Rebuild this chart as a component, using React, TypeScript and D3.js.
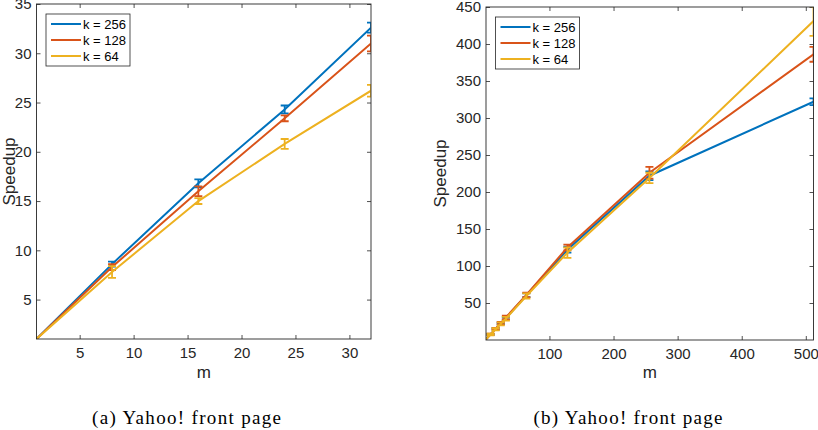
import React, { useEffect, useRef } from 'react';
import * as d3 from 'd3';

// speedup vs. number of machines m, three values of k
const M_A = [1, 8, 16, 24, 32];
const SPEED_A_256 = [1, 8.6, 16.8, 24.3, 32.6];
const SPEED_A_128 = [1, 8.3, 16.0, 23.4, 31.0];
const SPEED_A_64 = [1, 7.8, 15.0, 20.8, 26.2];
const ERR_A_256 = [0, 0.25, 0.4, 0.4, 0.5];
const ERR_A_128 = [0, 0.3, 0.5, 0.3, 0.8];
const ERR_A_64 = [0, 0.6, 0.3, 0.5, 0.6];

const M_B = [1, 8, 16, 24, 32, 64, 128, 256, 512];
const SPEED_B_256 = [1, 7.6, 15.0, 22.3, 29.5, 60.5, 122, 222, 322];
const SPEED_B_128 = [1, 7.7, 15.2, 22.8, 30.5, 61, 125, 226, 386];
const SPEED_B_64 = [1, 7.4, 14.6, 21.8, 28.8, 59.5, 118, 219, 431];
const ERR_B_256 = [0, 0.8, 1, 1.2, 1.5, 2.5, 4, 6, 4.5];
const ERR_B_128 = [0, 1, 1.2, 1.5, 2.5, 3, 4, 8, 10];
const ERR_B_64 = [0, 1.2, 1.5, 2, 2.5, 3.5, 7, 7, 20];

const SERIES_NAMES = ['k = 256', 'k = 128', 'k = 64'];
const COLORS = ['#0072BD', '#D95319', '#EDB120'];

const TICKS_A_X = [5, 10, 15, 20, 25, 30];
const TICKS_A_Y = [5, 10, 15, 20, 25, 30, 35];
const TICKS_B_X = [100, 200, 300, 400, 500];
const TICKS_B_Y = [50, 100, 150, 200, 250, 300, 350, 400, 450];

const AXIS_COLOR = '#262626';
const FONT = '"Liberation Sans", Arial, Helvetica, sans-serif';

type Panel = {
  id: string;
  left: number;
  right: number;
  top: number;
  bottom: number;
  xDomain: [number, number];
  yDomain: [number, number];
  xTicks: number[];
  yTicks: number[];
  m: number[];
  speed: number[][];
  err: number[][];
  ylabelX: number;
  caption: string;
  captionX: number;
};

const panels: Panel[] = [
  {
    id: 'a', left: 36.5, right: 371, top: 4, bottom: 339,
    xDomain: [1, 32], yDomain: [1, 35], xTicks: TICKS_A_X, yTicks: TICKS_A_Y,
    m: M_A, speed: [SPEED_A_256, SPEED_A_128, SPEED_A_64], err: [ERR_A_256, ERR_A_128, ERR_A_64],
    ylabelX: 15, caption: '(a) Yahoo! front page', captionX: 186.5,
  },
  {
    id: 'b', left: 486, right: 813.5, top: 7, bottom: 340,
    xDomain: [1, 512], yDomain: [0, 450], xTicks: TICKS_B_X, yTicks: TICKS_B_Y,
    m: M_B, speed: [SPEED_B_256, SPEED_B_128, SPEED_B_64], err: [ERR_B_256, ERR_B_128, ERR_B_64],
    ylabelX: 446, caption: '(b) Yahoo! front page', captionX: 628,
  },
];

function drawPanel(root: d3.Selection<SVGSVGElement, unknown, null, undefined>, p: Panel) {
  const x = d3.scaleLinear().domain(p.xDomain).range([p.left, p.right]);
  const y = d3.scaleLinear().domain(p.yDomain).range([p.bottom, p.top]);
  const w = p.right - p.left;
  const h = p.bottom - p.top;

  root.append('defs').append('clipPath').attr('id', 'clip-' + p.id)
    .append('rect').attr('x', p.left).attr('y', p.top).attr('width', w).attr('height', h);

  const g = root.append('g');

  // axes: ticks point inward on all four sides
  const styleAxis = (sel: d3.Selection<SVGGElement, unknown, null, undefined>) => {
    sel.select('.domain').remove();
    sel.selectAll('line').attr('stroke', AXIS_COLOR).attr('stroke-width', 0.8);
    sel.selectAll('text').attr('fill', AXIS_COLOR).attr('font-size', 15).attr('font-family', FONT);
  };

  g.append('g').attr('transform', `translate(0,${p.bottom})`)
    .call(d3.axisBottom(x).tickValues(p.xTicks).tickSize(-4).tickPadding(8))
    .call(styleAxis);
  g.append('g').attr('transform', `translate(0,${p.top})`)
    .call(d3.axisTop(x).tickValues(p.xTicks).tickSize(-4).tickFormat(() => ''))
    .call(styleAxis);
  g.append('g').attr('transform', `translate(${p.left},0)`)
    .call(d3.axisLeft(y).tickValues(p.yTicks).tickSize(-4).tickPadding(5))
    .call(styleAxis);
  g.append('g').attr('transform', `translate(${p.right},0)`)
    .call(d3.axisRight(y).tickValues(p.yTicks).tickSize(-4).tickFormat(() => ''))
    .call(styleAxis);

  // series with error bars
  const plot = g.append('g').attr('clip-path', `url(#clip-${p.id})`);
  const line = d3.line<number>().x((_, i) => x(p.m[i])).y(d => y(d));
  p.speed.forEach((vals, s) => {
    const sg = plot.append('g').attr('stroke', COLORS[s]).attr('stroke-width', 2).attr('fill', 'none');
    sg.append('path').attr('d', line(vals));
    vals.forEach((v, i) => {
      const e = p.err[s][i];
      if (e <= 0) return;
      const cx = x(p.m[i]);
      const y0 = y(v - e);
      const y1 = y(v + e);
      sg.append('path').attr('d', `M${cx},${y0}V${y1}M${cx - 4},${y0}H${cx + 4}M${cx - 4},${y1}H${cx + 4}`)
        .attr('stroke-width', 1.8);
    });
  });

  // box
  g.append('rect').attr('x', p.left).attr('y', p.top).attr('width', w).attr('height', h)
    .attr('fill', 'none').attr('stroke', AXIS_COLOR).attr('stroke-width', 0.9);

  // legend
  const lg = g.append('g').attr('transform', `translate(${p.left + 9.5},${p.top + 10})`);
  lg.append('rect').attr('width', 84).attr('height', 52)
    .attr('fill', '#fff').attr('stroke', AXIS_COLOR).attr('stroke-width', 0.8);
  SERIES_NAMES.forEach((name, i) => {
    const ry = 10 + i * 16;
    lg.append('line').attr('x1', 5).attr('x2', 35).attr('y1', ry).attr('y2', ry)
      .attr('stroke', COLORS[i]).attr('stroke-width', 2);
    lg.append('text').attr('x', 37).attr('y', ry).attr('dy', '0.35em')
      .attr('font-size', 13).attr('font-family', FONT).attr('fill', '#000').text(name);
  });

  // axis labels
  g.append('text').attr('x', (p.left + p.right) / 2).attr('y', 378)
    .attr('text-anchor', 'middle').attr('font-size', 17).attr('font-family', FONT)
    .attr('fill', AXIS_COLOR).text('m');
  g.append('text').attr('transform', `translate(${p.ylabelX},${(p.top + p.bottom) / 2}) rotate(-90)`)
    .attr('text-anchor', 'middle').attr('font-size', 17).attr('font-family', FONT)
    .attr('fill', AXIS_COLOR).text('Speedup');

  // caption
  g.append('text').attr('x', p.captionX).attr('y', 424)
    .attr('text-anchor', 'middle').attr('font-size', 19)
    .attr('font-family', '"Liberation Serif", "DejaVu Serif", serif')
    .attr('textLength', 189).attr('lengthAdjust', 'spacing')
    .attr('fill', '#000').text(p.caption);
}

export default function App() {
  const ref = useRef<SVGSVGElement>(null);

  useEffect(() => {
    if (!ref.current) return;
    const svg = d3.select(ref.current);
    svg.selectAll('*').remove();
    panels.forEach(p => drawPanel(svg, p));
  }, []);

  return (
    <svg
      ref={ref}
      width={818}
      height={430}
      style={{ position: 'absolute', left: 0, top: 0, background: '#fff' }}
    />
  );
}
